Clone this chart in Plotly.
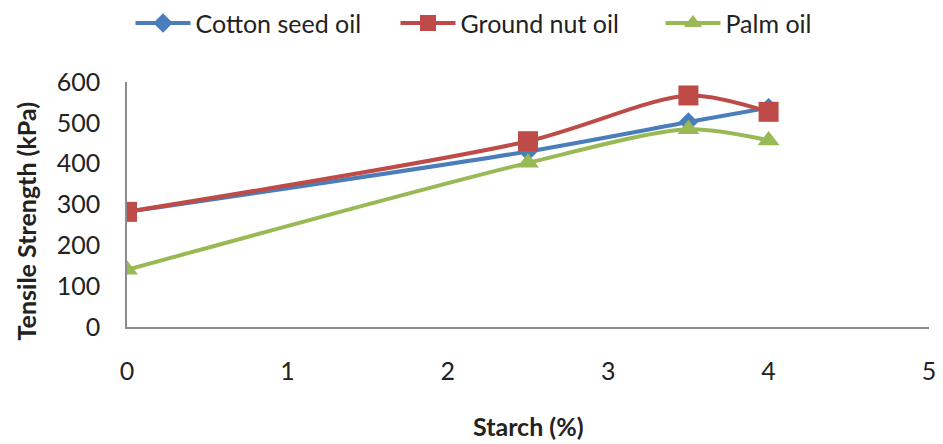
import plotly.graph_objects as go

starch = [0, 2.5, 3.5, 4]
cotton_seed = [282, 430, 502, 537]
ground_nut = [282, 455, 567, 527]
palm = [140, 402, 484, 457]

FONT = "Lato, Open Sans, sans-serif"

fig = go.Figure()


def add_series(y, name, color, symbol, size):
    fig.add_trace(
        go.Scatter(
            x=starch,
            y=y,
            mode="lines+markers",
            name=name,
            line=dict(color=color, width=4, shape="spline", smoothing=0.8),
            marker=dict(color=color, symbol=symbol, size=size),
        )
    )


add_series(cotton_seed, "Cotton seed oil", "#4a7ebb", "diamond", 15)
add_series(ground_nut, "Ground nut oil", "#be4b48", "square", 20)
add_series(palm, "Palm oil", "#98b954", "triangle-up", 19)

# page body keeps an 8px margin, so the figure is shifted by 8px
fig.update_layout(
    width=935,
    height=436,
    paper_bgcolor="white",
    plot_bgcolor="white",
    font=dict(family=FONT, size=25, color="#222"),
    margin=dict(l=119, r=14, t=74, b=117, autoexpand=False),
    showlegend=True,
    legend=dict(
        orientation="h",
        x=0.131,
        xref="container",
        xanchor="left",
        y=1.24,
        yanchor="middle",
        font=dict(size=25),
        itemwidth=55,
        entrywidth=195,
        entrywidthmode="pixels",
        traceorder="normal",
    ),
    xaxis=dict(
        range=[0, 5],
        dtick=1,
        showgrid=False,
        zeroline=False,
        showline=True,
        linecolor="#8c8c8c",
        linewidth=1.5,
        ticks="",
        ticklabelstandoff=21,
        ticklabeloverflow="allow",
        automargin=False,
    ),
    yaxis=dict(
        range=[0, 600],
        dtick=100,
        showgrid=False,
        zeroline=False,
        showline=True,
        linecolor="#8c8c8c",
        linewidth=1.5,
        ticks="",
        ticklabelstandoff=20,
        automargin=False,
    ),
    annotations=[
        dict(
            text="<b>Starch (%)</b>",
            xref="paper", yref="paper",
            x=0.5, y=-0.405,
            xanchor="center", yanchor="middle",
            showarrow=False,
            font=dict(size=25),
        ),
        dict(
            text="<b>Tensile Strength (kPa)</b>",
            xref="paper", yref="paper",
            x=-0.1266, y=0.433,
            xanchor="center", yanchor="middle",
            textangle=-90,
            showarrow=False,
            font=dict(size=25),
        ),
    ],
)

fig.write_html("out.html")
